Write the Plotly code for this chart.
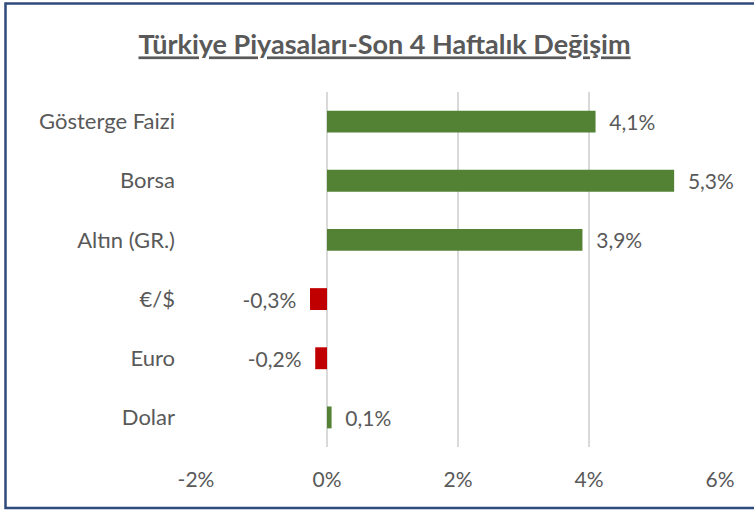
import plotly.graph_objects as go

categories = ["Gösterge Faizi", "Borsa", "Altın (GR.)", "€/$", "Euro", "Dolar"]
values = [4.1, 5.3, 3.9, -0.26, -0.18, 0.07]
tick_values = [-2, 0, 2, 4, 6]
tick_labels = ["-2%", "0%", "2%", "4%", "6%"]
title_text = "Türkiye Piyasaları-Son 4 Haftalık Değişim"

GREEN = "#548235"
RED = "#C00000"
TXT = "#595959"
FONT = "Lato"

colors = [GREEN if v >= 0 else RED for v in values]
labels = [("  " + f"{v:.1f}%".replace(".", ",")) if v >= 0
          else (f"{v:.1f}%".replace(".", ",") + "  ") for v in values]

fig = go.Figure(go.Bar(
    x=values, y=categories, orientation="h",
    marker=dict(color=colors, line=dict(width=0)),
    text=labels, textposition="outside", constraintext="none",
    textfont=dict(family=FONT, size=21, color=TXT),
    cliponaxis=False,
))

W, H = 754, 511
L, R, T, B = 196, 34, 92, 64
pw, ph = W - L - R, H - T - B

def px_to_paper_x(px):
    return (px - L) / pw

def px_to_paper_y(py):
    return (H - B - py) / ph

fig.update_layout(
    width=W, height=H,
    margin=dict(l=L, r=R, t=T, b=B),
    paper_bgcolor="white", plot_bgcolor="white",
    bargap=0.63,
    showlegend=False,
    uniformtext=dict(minsize=21, mode="show"),
    font=dict(family=FONT, size=21, color=TXT),
    title=dict(text=f"<b><u>{title_text}</u></b>", x=0.51, xanchor="center",
               y=1 - 45 / H, yanchor="middle",
               font=dict(family=FONT, size=27, color=TXT)),
    xaxis=dict(range=[-2, 6], tickvals=tick_values, ticktext=tick_labels,
               showgrid=True, gridcolor="#D9D9D9", gridwidth=2, zeroline=True,
               zerolinecolor="#D9D9D9", zerolinewidth=2, showline=False,
               ticklabelstandoff=18, tickfont=dict(family=FONT, size=21, color=TXT),
               fixedrange=True),
    yaxis=dict(categoryorder="array", categoryarray=categories, autorange="reversed",
               showgrid=False, showline=False, ticks="",
               ticklabelstandoff=20, tickfont=dict(family=FONT, size=22, color=TXT)),
    shapes=[dict(type="rect", xref="paper", yref="paper",
                 x0=px_to_paper_x(5.5), x1=px_to_paper_x(757),
                 y0=px_to_paper_y(508), y1=px_to_paper_y(3.5),
                 line=dict(color="#2F4A7C", width=2.5), layer="above")],
)

fig.write_html("out.html")
